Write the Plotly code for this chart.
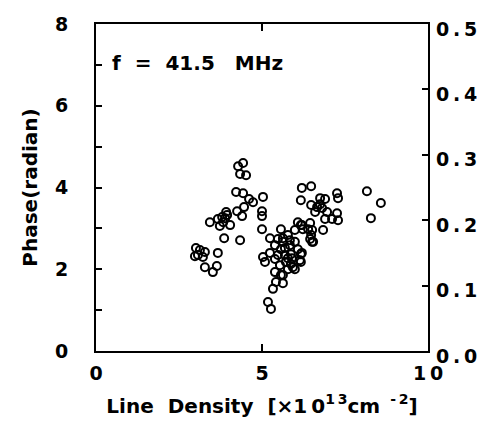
import plotly.graph_objects as go

density = [3.01, 3.07, 2.98, 3.28, 3.22, 3.67, 3.28, 3.64, 3.52, 3.13, 3.86, 4.34,
           3.43, 3.67, 3.73, 3.80, 3.89, 3.95, 3.83, 3.92, 4.04, 4.25, 4.46, 4.40,
           4.22, 4.43, 4.61, 4.73, 5.03, 5.00, 5.00, 5.00, 4.43, 4.28, 4.34, 4.52,
           5.24, 5.03, 5.24, 5.09, 5.18, 5.27, 5.57, 5.48, 5.78, 5.99, 6.17, 5.39,
           5.57, 5.69, 5.87, 5.72, 5.87, 5.54, 5.39, 5.57, 5.42, 5.33, 5.99, 5.78,
           6.17, 6.08, 5.63, 5.84, 5.39, 5.63, 5.63, 5.93, 6.20, 6.14, 5.63, 5.84,
           5.48, 5.69, 5.78, 5.90, 6.17, 6.39, 6.48, 6.54, 6.08, 6.20, 5.99, 6.23,
           6.45, 6.51, 6.45, 6.51, 6.20, 6.48, 6.17, 6.48, 6.75, 6.90, 6.66, 6.81,
           7.26, 7.29, 6.96, 7.26, 6.90, 7.11, 7.29, 6.84, 8.16, 8.58, 8.28, 6.75,
           6.60]
phase = [2.52, 2.35, 2.32, 2.42, 2.30, 2.40, 2.05, 2.08, 1.93, 2.47, 2.76, 2.71,
         3.15, 3.23, 3.06, 3.28, 3.25, 3.33, 3.15, 3.40, 3.08, 3.42, 3.52, 3.30,
         3.89, 3.86, 3.72, 3.64, 3.77, 3.42, 3.30, 2.98, 4.60, 4.52, 4.33, 4.30,
         2.76, 2.30, 2.40, 2.18, 1.20, 1.03, 2.98, 2.74, 2.84, 2.67, 2.37, 2.25,
         2.49, 2.35, 2.37, 2.18, 2.13, 2.10, 1.93, 1.86, 1.69, 1.52, 2.00, 2.00,
         2.18, 2.49, 2.67, 2.59, 2.59, 1.66, 1.86, 2.05, 2.40, 2.22, 2.76, 2.71,
         2.35, 2.52, 2.27, 2.27, 3.08, 2.98, 2.84, 2.67, 3.15, 3.08, 2.96, 2.98,
         3.13, 2.96, 2.74, 2.67, 3.99, 4.03, 3.69, 3.57, 3.74, 3.72, 3.52, 3.50,
         3.86, 3.74, 3.40, 3.37, 3.23, 3.23, 3.20, 2.96, 3.91, 3.62, 3.25, 3.59,
         3.40]

x_ticks = [0, 5, 10]
x_ticktext = ["0", "5", "1\u20090"]
y_ticks = [0, 2, 4, 6, 8]
y_ticktext = ["0", "2", "4", "6", "8"]
y2_ticks = [0.0, 0.1, 0.2, 0.3, 0.4, 0.5]
y2_ticktext = ["0\u2009.\u20090", "0\u2009.\u20091", "0\u2009.\u20092",
               "0\u2009.\u20093", "0\u2009.\u20094", "0\u2009.\u20095"]

FONT = "DejaVu Sans"
tick_font = dict(family=FONT, size=19, color="black", weight="bold")

fig = go.Figure()
fig.add_trace(go.Scatter(
    x=density, y=phase, mode="markers",
    marker=dict(symbol="circle-open", size=8, color="black",
                line=dict(width=2, color="black")),
    showlegend=False,
))
# invisible trace to activate the right axis
fig.add_trace(go.Scatter(x=[None], y=[None], yaxis="y2", showlegend=False))

fig.update_layout(
    width=484, height=419,
    margin=dict(l=88, r=64, t=16, b=76, autoexpand=False),
    paper_bgcolor="white", plot_bgcolor="white",
    xaxis=dict(range=[0, 10], tickmode="array", tickvals=x_ticks, ticktext=x_ticktext,
               ticks="inside", ticklen=7, tickwidth=1.5, tickcolor="black",
               showline=True, linewidth=2, linecolor="black", mirror="ticks",
               showgrid=False, zeroline=False, tickfont=tick_font,
               ticklabelstandoff=4, automargin=False,
               title=dict(text="Line\u2002\u2009Density\u2002\u2009[\u00d71\u20090<sup>1\u20093</sup>cm\u2002<sup>-\u20092</sup>]",
                          font=dict(family=FONT, size=20, color="black", weight="bold"),
                          standoff=16)),
    yaxis=dict(range=[0, 8], tickmode="array", tickvals=y_ticks, ticktext=y_ticktext,
               ticks="inside", ticklen=6, tickwidth=1.5, tickcolor="black",
               minor=dict(dtick=1, ticks="inside", ticklen=6, tickwidth=1.5, tickcolor="black"),
               showline=True, linewidth=2, linecolor="black", mirror=True,
               showgrid=False, zeroline=False, tickfont=tick_font,
               ticklabelstandoff=22, automargin=False,
               title=dict(text="Phase(radian)",
                          font=dict(family=FONT, size=20, color="black", weight="bold"),
                          standoff=12)),
    yaxis2=dict(range=[0, 0.5], overlaying="y", side="right",
                tickmode="array", tickvals=y2_ticks, ticktext=y2_ticktext,
                ticks="inside", ticklen=6, tickwidth=1.5, tickcolor="black",
                showline=False, showgrid=False, zeroline=False, tickfont=tick_font,
                ticklabelstandoff=7, ticklabelshift=5, automargin=False),
    annotations=[dict(text="f\u2002\u2009=\u2002\u200941.5\u2002\u2002MHz", x=0.42, y=7.05, xref="x", yref="y",
                      xanchor="left", yanchor="middle", showarrow=False,
                      font=dict(family=FONT, size=20, color="black", weight="bold"))],
)

fig.write_html("out.html")
